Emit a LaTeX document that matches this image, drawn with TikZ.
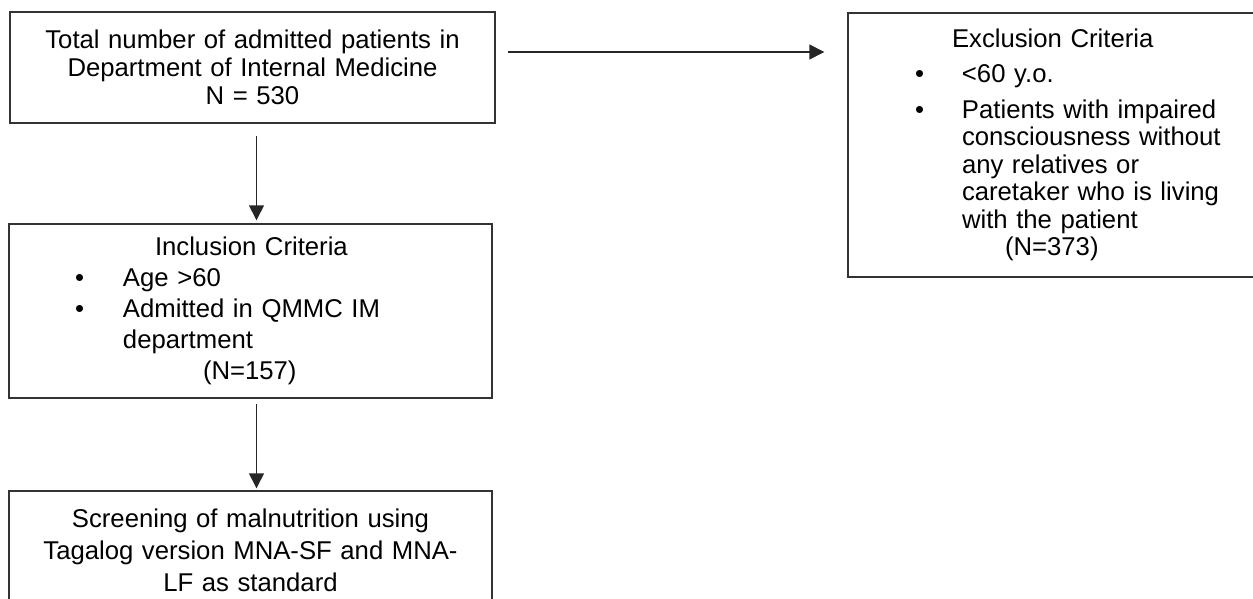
\documentclass[tikz,border=0pt]{standalone}
\usepackage{fontspec}
\setmainfont{Liberation Sans}
\usetikzlibrary{arrows.meta}

\begin{document}
\begin{tikzpicture}[x=0.5pt,y=-0.5pt]
\tikzset{box/.style={draw=black!80,line width=0.7pt,rectangle,inner ysep=0pt}}
\tikzset{link/.style={draw=black!85,line width=0.7pt,-{Triangle[length=7.5pt,width=7.5pt]}}}
\tikzset{lines/.style={font=\fontsize{12.85}{#1}\selectfont}}

\useasboundingbox (0,0) rectangle (1253,599);

% boxes
\node[box,lines=14pt,minimum height=55.5pt,text width=222.5pt,inner xsep=10pt,align=center] (total) at (252.5,67.5)
  {Total number of admitted patients in\\Department of Internal Medicine\\N = 530};

\node[box,lines=13.75pt,minimum height=132pt,text width=155pt,inner xsep=33.5pt,align=left] (excl) at (1070,145)
  {\hspace*{18.5pt}Exclusion Criteria\\[4pt]
   \makebox[23.5pt][l]{\textbullet}<60 y.o.\\[4pt]
   \makebox[23.5pt][l]{\textbullet}Patients with impaired\\
   \hspace*{23.5pt}consciousness without\\
   \hspace*{23.5pt}any relatives or\\
   \hspace*{23.5pt}caretaker who is living\\
   \hspace*{23.5pt}with the patient\\
   \hspace*{45pt}(N=373)};

\node[box,lines=15.5pt,minimum height=87pt,text width=175.5pt,inner xsep=33pt,align=left] (incl) at (250.5,311)
  {\hspace*{40pt}Inclusion Criteria\\
   \makebox[24pt][l]{\textbullet}Age >60\\
   \makebox[24pt][l]{\textbullet}Admitted in QMMC IM\\
   \hspace*{24pt}department\\
   \hspace*{64pt}(N=157)};

\node[box,lines=16pt,minimum height=59pt,text width=221.5pt,inner xsep=10pt,align=center] (screen) at (250.5,550)
  {Screening of malnutrition using\\Tagalog version MNA-SF and MNA-\\LF as standard};

% arrows
\coordinate (t1) at ([yshift=7.75pt]total.east);
\draw[link,shorten <=6pt,shorten >=11.5pt] (t1) -- (t1 -| excl.west);

\coordinate (t2) at ([xshift=2pt]total.south);
\draw[link,shorten <=6pt,shorten >=1.5pt] (t2) -- (t2 |- incl.north);

\coordinate (t3) at ([xshift=3pt]incl.south);
\draw[link,shorten <=2.5pt,shorten >=1pt] (t3) -- (t3 |- screen.north);

\end{tikzpicture}
\end{document}
